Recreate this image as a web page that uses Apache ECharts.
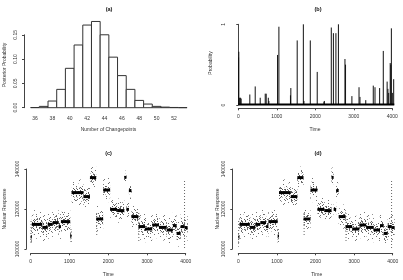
<!DOCTYPE html>
<html><head><meta charset="utf-8">
<script src="https://cdn.jsdelivr.net/npm/echarts@6/dist/echarts.min.js"></script>
<style>html,body{margin:0;padding:0;background:#fff}#c{width:403px;height:280px}</style>
</head><body><div id="c"></div>
<script>
// ---------- (a) posterior of number of changepoints ----------
const cpCounts = [36,37,38,39,40,41,42,43,44,45,46,47,48,49,50,51,52,53];
const cpProb   = [0.0004,0.0027,0.0137,0.0377,0.081,0.129,0.170,0.1774,0.150,0.104,0.066,0.0377,0.015,0.0075,0.0027,0.0012,0.0005,0.0002];
// ---------- (b) changepoint probability by time ----------
const spikeTime = [8,14,35,55,75,300,440,570,700,725,780,795,1020,1055,1355,1365,1530,1690,1705,1870,2050,2225,2235,2415,2470,2535,2600,2770,2785,2950,3135,3160,3310,3505,3550,3670,3765,3865,3885,3905,3945,3960,3975,4000,4035];
const spikeProb = [0.59,0.66,0.09,0.09,0.08,0.13,0.23,0.09,0.14,0.14,0.09,0.05,0.62,0.97,0.12,0.21,0.80,1.00,0.05,0.80,0.41,0.04,0.05,0.96,0.89,0.89,1.00,0.57,0.50,0.11,0.22,0.10,0.06,0.24,0.22,0.21,0.67,0.29,0.20,0.15,0.52,0.50,0.95,0.15,0.32];
const floorTime = [0, 4050];
const floorProb = [0.006, 0.006];
// ---------- (c)/(d) nuclear response: fitted segments and spread of the observations ----------
const segBounds = [0,30,300,440,570,720,780,1020,1055,1360,1530,1690,1870,2050,2230,2415,2470,2535,2600,2780,2950,3135,3310,3510,3670,3765,3870,3975,4050];
const segLevel  = [106000,112300,110800,112300,113200,111200,113700,106500,128200,126200,135700,115000,129500,119800,119200,135800,119800,129200,116200,111200,110000,112000,110800,109500,111700,107800,111200,110700];
const segSpread = [6000,6500,6500,6500,6500,6500,6500,4000,6000,6000,5000,6000,5500,5500,5500,4500,4000,4500,5500,6000,6000,6000,6000,6000,6000,6000,6000,6000];
const streakTime = [10,1040,1705,2790,3970];
const streakLo   = [102000,102500,107000,104000,99500];
const streakHi   = [114000,110000,118000,118000,134000];

const FONT = "'Liberation Sans', Arial, sans-serif";
const TXT = '#333';
const AX = '#444';

function tile(size, dots, color){
  const c = document.createElement('canvas'); c.width = c.height = size;
  const g = c.getContext('2d'); g.fillStyle = color;
  dots.forEach(d => g.fillRect(d[0], d[1], 1, 1));
  return {image: c, repeat: 'repeat'};
}
const faintDots = [[1,2],[7,0],[10,6],[4,8],[0,10],[8,11]];
const sparseDots = [[1,1],[5,0],[8,3],[3,4],[0,7],[6,6],[9,8],[4,9],[2,2],[7,9]];
const denseDots = [[0,0],[3,0],[6,1],[1,2],[4,3],[7,3],[2,5],[5,5],[0,6],[3,7],[6,7],[1,4]];
const patFaint = tile(12, faintDots, '#777');
const patSparse = tile(10, sparseDots, '#666');
const patDense = tile(8, denseDots, '#555');

const segData = segLevel.map((v,i) => [segBounds[i], segBounds[i+1], v, segSpread[i]]);
const streakData = streakTime.map((t,i) => [t, streakLo[i], streakHi[i]]);

function hid(g, min, max){ return {type:'value', gridIndex:g, min, max, show:false, splitLine:{show:false}}; }
function vis(g, min, max, interval, o){
  return Object.assign({type:'value', gridIndex:g, min, max, interval,
    splitLine:{show:false},
    axisLine:{show:true, lineStyle:{color:AX, width:1}},
    axisTick:{show:true, length:2, lineStyle:{color:AX}},
    axisLabel:{fontSize:5, fontFamily:FONT, color:TXT, margin:6, formatter:v=>String(v)}}, o||{});
}
const yLab = {fontSize:5, fontFamily:FONT, color:TXT, margin:6, rotate:90, formatter:v=>String(v)};

const grids = [
  {left:30.65, top:20.2, width:156.4, height:87.5},   // 0 a data
  {left:24, top:34.8, width:5, height:72.9},          // 1 a y axis
  {left:35, top:100, width:139, height:10},           // 2 a x labels
  {left:232.1, top:24.3, width:166.4, height:80.7},   // 3 b data + y axis
  {left:238.3, top:98.3, width:154, height:10},       // 4 b x axis
  {left:26.4, top:163, width:165.5, height:90.4},     // 5 c data
  {left:26.4, top:169, width:5, height:80},           // 6 c y axis
  {left:30.7, top:243.3, width:155, height:10},       // 7 c x axis
  {left:232.1, top:163, width:166.8, height:90.4},    // 8 d data
  {left:232.3, top:169, width:5, height:80},          // 9 d y axis
  {left:238.3, top:243.3, width:154.4, height:10}     // 10 d x axis
];

const xAxes = [
  hid(0,35.5,53.5), hid(1,0,1),
  vis(2,36,52,2,{axisLine:{show:false}, axisTick:{show:false}}),
  hid(3,-160,4160), vis(4,0,4000,1000),
  hid(5,-110,4160), hid(6,0,1), vis(7,0,4000,1000),
  hid(8,-160,4160), hid(9,0,1), vis(10,0,4000,1000)
];
const yAxes = [
  hid(0,0,0.18),
  vis(1,0,0.15,0.05,{axisLabel:Object.assign({}, yLab, {formatter:v=>v.toFixed(2)})}),
  hid(2,0,1),
  vis(3,0,1,1,{axisLabel:yLab}),
  hid(4,0,1),
  hid(5,97800,143000),
  vis(6,100000,140000,20000,{axisLabel:yLab}),
  hid(7,0,1),
  hid(8,97800,143000),
  vis(9,100000,140000,20000,{axisLabel:yLab}),
  hid(10,0,1)
];

function band(api, s, e, v, h, fill){
  const a=api.coord([s, v+h]), b=api.coord([e, v-h]);
  return {type:'rect', shape:{x:a[0], y:a[1], width:b[0]-a[0], height:b[1]-a[1]}, style:{fill}};
}
function cloudSeries(ax){
  return {type:'custom', xAxisIndex:ax, yAxisIndex:ax, data:segData, silent:true,
    renderItem:(p, api) => {
      const s=api.value(0), e=api.value(1), v=api.value(2), sp=api.value(3);
      return {type:'group', children:[
        band(api, s, e, v, sp*1.1, patFaint),
        band(api, s, e, v, sp*0.75, patSparse),
        band(api, s, e, v, sp*0.4, patDense)
      ]};
    }};
}
function streakSeries(ax){
  return {type:'custom', xAxisIndex:ax, yAxisIndex:ax, data:streakData, silent:true,
    renderItem:(p, api) => {
      const a=api.coord([api.value(0), api.value(2)]), b=api.coord([api.value(0), api.value(1)]);
      return {type:'line', shape:{x1:a[0], y1:a[1], x2:b[0], y2:b[1]}, style:{stroke:'#666', lineWidth:1, lineDash:[1,2]}};
    }};
}
function fitSeries(ax){
  return {type:'custom', xAxisIndex:ax, yAxisIndex:ax, data:segData, silent:true,
    renderItem:(p, api) => {
      const a=api.coord([api.value(0), api.value(2)]), b=api.coord([api.value(1), api.value(2)]);
      return {type:'line', shape:{x1:a[0], y1:a[1], x2:b[0], y2:b[1]}, style:{stroke:'#000', lineWidth:3}};
    }};
}

const series = [
  {type:'custom', xAxisIndex:0, yAxisIndex:0, silent:true,
    data: cpCounts.map((c,i)=>[c, cpProb[i]]),
    renderItem:(p, api) => {
      const x=api.value(0), y=api.value(1);
      const a=api.coord([x-0.5, y]), b=api.coord([x+0.5, 0]);
      return {type:'rect', shape:{x:a[0], y:a[1], width:b[0]-a[0], height:b[1]-a[1]}, style:{fill:'#fff', stroke:'#333', lineWidth:1}};
    }},
  {type:'line', xAxisIndex:3, yAxisIndex:3, silent:true, symbol:'none',
    data: floorTime.map((t,i)=>[t, floorProb[i]]), lineStyle:{color:'#000', width:2}},
  {type:'custom', xAxisIndex:3, yAxisIndex:3, silent:true,
    data: spikeTime.map((t,i)=>[t, spikeProb[i]]),
    renderItem:(p, api) => {
      const a=api.coord([api.value(0), 0]), b=api.coord([api.value(0), api.value(1)]);
      return {type:'line', shape:{x1:a[0], y1:a[1], x2:b[0], y2:b[1]}, style:{stroke:'#111', lineWidth:1}};
    }},
  cloudSeries(5), streakSeries(5), fitSeries(5),
  cloudSeries(8), streakSeries(8), fitSeries(8)
];

function txt(x, y, s, o){
  return {type:'text', x, y, style:Object.assign({text:s, fontSize:5, fontFamily:FONT, fill:TXT, align:'center', verticalAlign:'middle'}, o||{})};
}
function vtxt(x, y, s){
  return {type:'text', x, y, rotation:Math.PI/2, style:{text:s, fontSize:5, fontFamily:FONT, fill:TXT, align:'center', verticalAlign:'middle'}};
}
const graphic = [
  txt(109, 9, '(a)', {fontWeight:'bold', fontSize:5.5, fill:'#111'}),
  txt(318, 9, '(b)', {fontWeight:'bold', fontSize:5.5, fill:'#111'}),
  txt(108.5, 153.3, '(c)', {fontWeight:'bold', fontSize:5.5, fill:'#111'}),
  txt(318, 153.3, '(d)', {fontWeight:'bold', fontSize:5.5, fill:'#111'}),
  txt(108.5, 129.5, 'Number of Changepoints'),
  txt(315, 130, 'Time'),
  txt(108.3, 275, 'Time'),
  txt(316.7, 275, 'Time'),
  vtxt(5, 65, 'Posterior Probability'),
  vtxt(211, 63, 'Probability'),
  vtxt(5, 209, 'Nuclear Response'),
  vtxt(218, 209, 'Nuclear Response')
];

const chart = echarts.init(document.getElementById('c'), null, {renderer:'canvas'});
chart.setOption({animation:false, backgroundColor:'#fff', grid:grids, xAxis:xAxes, yAxis:yAxes, series, graphic});
</script></body></html>
